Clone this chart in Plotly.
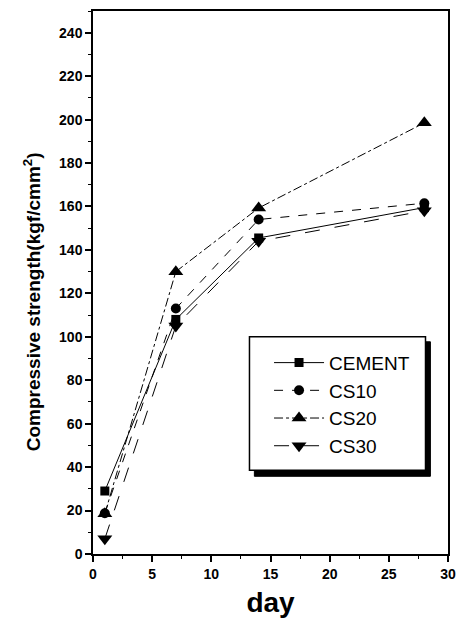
import plotly.graph_objects as go

days = [1, 7, 14, 28]
cement = [29, 108, 145.5, 159.5]
cs10 = [18.8, 113, 154, 161.5]
cs20 = [18.5, 130, 159.3, 198.5]
cs30 = [7, 105, 144, 158]

x_ticks = [0, 5, 10, 15, 20, 25, 30]
y_ticks = [0, 20, 40, 60, 80, 100, 120, 140, 160, 180, 200, 220, 240]

series = [
    ("CEMENT", cement, "square", "solid", 9),
    ("CS10", cs10, "circle", "dash", 10),
    ("CS20", cs20, "triangle-up", "dashdot", 13),
    ("CS30", cs30, "triangle-down", "longdash", 13),
]

fig = go.Figure()
for name, vals, sym, dash, size in series:
    fig.add_trace(go.Scatter(
        x=days, y=vals, name=name, mode="lines+markers",
        line=dict(color="black", width=1, dash=dash),
        marker=dict(symbol=sym, size=size, color="black"),
    ))

font_fam = "Liberation Sans, Arial, sans-serif"
W, H = 465, 626
L, R, T, B = 93, 9, 9, 72
pw, ph = W - L - R, H - T - B

def px(x):
    return (x - L) / pw

def py(y):
    return (H - B - y) / ph

fig.update_layout(
    width=W, height=H,
    margin=dict(l=L, r=R, t=T, b=B),
    plot_bgcolor="white", paper_bgcolor="white",
    font=dict(family=font_fam, color="black"),
    showlegend=True,
    legend=dict(
        x=px(273), y=py(343), xanchor="left", yanchor="top",
        bgcolor="rgba(0,0,0,0)", borderwidth=0,
        font=dict(size=19, family=font_fam, color="black"),
        itemwidth=50,
    ),
    shapes=[
        dict(type="rect", xref="paper", yref="paper",
             x0=px(258), x1=px(438), y0=py(476), y1=py(341),
             fillcolor="black", line=dict(color="black", width=1)),
        dict(type="rect", xref="paper", yref="paper",
             x0=px(253), x1=px(433), y0=py(470), y1=py(336),
             fillcolor="white", line=dict(color="black", width=1.5)),
    ],
    annotations=[
        dict(text="<b>Compressive strength(kgf/cmm<sup>2</sup>)</b>",
             xref="paper", yref="paper", x=px(31), y=py(301),
             xanchor="center", yanchor="middle", textangle=-90,
             showarrow=False, font=dict(size=19, family=font_fam, color="black")),
    ],
)

fig.update_xaxes(
    range=[0, 30], tickmode="array", tickvals=x_ticks,
    ticktext=["<b>%d</b>" % v for v in x_ticks],
    showline=True, linecolor="black", linewidth=1.5, mirror=True,
    ticks="outside", ticklen=6, tickwidth=1.5, tickcolor="black",
    minor=dict(dtick=2.5, tick0=0, ticks="outside", ticklen=3, tickcolor="black", tickwidth=1),
    showgrid=False, zeroline=False,
    tickfont=dict(size=14, family=font_fam),
    title=dict(text="<b>day</b>", font=dict(size=28, family=font_fam), standoff=12),
)
fig.update_yaxes(
    range=[0, 250], tickmode="array", tickvals=y_ticks,
    ticktext=["<b>%d</b>" % v for v in y_ticks],
    showline=True, linecolor="black", linewidth=1.5, mirror=True,
    ticks="outside", ticklen=6, tickwidth=1.5, tickcolor="black",
    minor=dict(dtick=10, tick0=0, ticks="outside", ticklen=3, tickcolor="black", tickwidth=1),
    showgrid=False, zeroline=False,
    tickfont=dict(size=14, family=font_fam),
)

fig.write_html("out.html")
